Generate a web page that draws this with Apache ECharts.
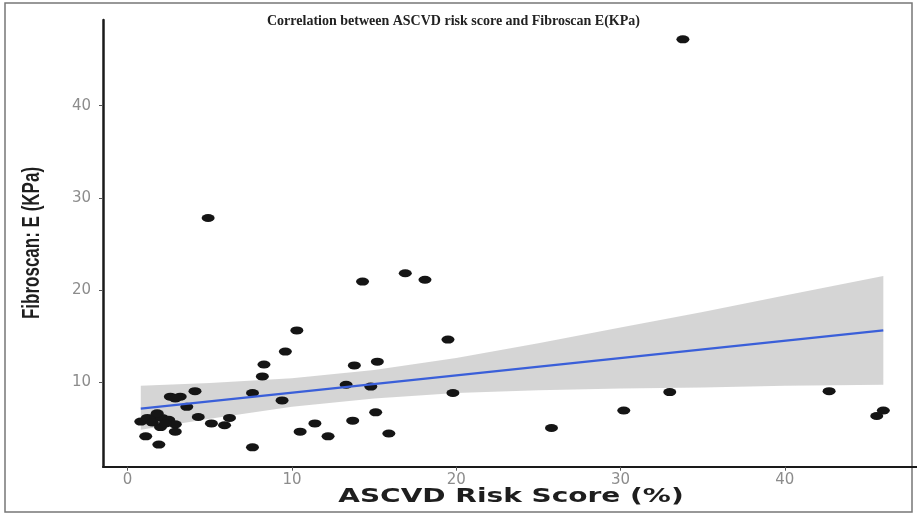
<!DOCTYPE html>
<html>
<head>
<meta charset="utf-8">
<script src="https://cdn.jsdelivr.net/npm/echarts@6/dist/echarts.min.js"></script>
<style>
html,body{margin:0;padding:0;background:#fff;}
#chart{width:917px;height:516px;}
</style>
</head>
<body>
<div id="chart"></div>
<script>
// ---- Data ----
const titleText = 'Correlation between ASCVD risk score and Fibroscan E(KPa)';
const xAxisName = 'ASCVD Risk Score (%)';
const yAxisName = 'Fibroscan: E (KPa)';
const xTicks = [0, 10, 20, 30, 40];
const yTicks = [10, 20, 30, 40];

// ASCVD risk score (%) for each patient
const riskScore = [33.8, 4.9, 16.9, 14.3, 18.1, 10.3, 19.5, 9.6, 8.3, 13.8,
                   15.2, 8.2, 13.3, 14.8, 7.6, 9.4, 19.8, 42.7, 33.0, 30.2,
                   25.8, 46.0, 45.6, 15.1, 13.7, 11.4, 10.5, 12.2, 15.9, 7.6,
                   4.1, 2.6, 3.2, 2.9, 3.6, 0.8, 1.2, 1.7, 2.1, 2.5,
                   2.0, 2.9, 2.9, 4.3, 5.1, 5.9, 6.2, 1.1, 1.9, 1.5,
                   2.3, 1.8];
// Fibroscan E (KPa) for each patient
const fibroscanE = [47.2, 27.8, 21.8, 20.9, 21.1, 15.6, 14.6, 13.3, 11.9, 11.8,
                    12.2, 10.6, 9.7, 9.5, 8.8, 8.0, 8.8, 9.0, 8.9, 6.9,
                    5.0, 6.9, 6.3, 6.7, 5.8, 5.5, 4.6, 4.1, 4.4, 2.9,
                    9.0, 8.4, 8.4, 8.2, 7.3, 5.7, 6.1, 6.2, 6.1, 5.9,
                    5.1, 5.4, 4.6, 6.2, 5.5, 5.3, 6.1, 4.1, 3.2, 5.6,
                    5.5, 6.6];

// Fitted regression line (end points)
const fitX = [0.8, 46.0];
const fitY = [7.1, 15.6];

// Confidence band read at several x positions
const bandX     = [0.8, 5,   10,   15,  20,   25,   30,   35,   40,   46.0];
const bandLower = [4.8, 6.0, 7.3,  8.2, 8.8,  9.1,  9.3,  9.4,  9.6,  9.7];
const bandUpper = [9.6, 9.9, 10.4, 11.3, 12.6, 14.2, 15.9, 17.6, 19.4, 21.5];

// ---- Chart ----
const chart = echarts.init(document.getElementById('chart'), null, {renderer: 'canvas'});

const points = riskScore.map((x, i) => [x, fibroscanE[i]]);
const fitLine = fitX.map((x, i) => [x, fitY[i]]);
const bandData = bandX.map((x, i) => [x, bandLower[i], bandUpper[i]]);

const option = {
  animation: false,
  backgroundColor: '#ffffff',
  title: {
    text: titleText,
    left: 267,
    top: 14,
    padding: 0,
    textStyle: {
      fontFamily: "'Liberation Serif', 'DejaVu Serif', serif",
      fontWeight: 'bold',
      fontSize: 14,
      color: '#222'
    }
  },
  grid: {
    left: 103,
    right: 0,
    top: 20,
    bottom: 49.3,
    containLabel: false
  },
  xAxis: {
    type: 'value',
    min: -1.5,
    max: 48.05,
    splitLine: {show: false},
    axisLine: {show: true, onZero: false, lineStyle: {color: '#1a1a1a', width: 2}},
    axisTick: {show: true, length: 4, customValues: xTicks, lineStyle: {color: '#555', width: 1}},
    axisLabel: {
      customValues: xTicks,
      margin: 6,
      color: '#8c8c8c',
      fontSize: 15,
      fontFamily: "'DejaVu Sans', sans-serif"
    }
  },
  yAxis: {
    type: 'value',
    min: 0.8,
    max: 49.3,
    splitLine: {show: false},
    axisLine: {show: true, onZero: false, lineStyle: {color: '#1a1a1a', width: 2.5}},
    axisTick: {show: true, length: 4, customValues: yTicks, lineStyle: {color: '#555', width: 1}},
    axisLabel: {
      customValues: yTicks,
      margin: 12,
      color: '#8c8c8c',
      fontSize: 15,
      fontFamily: "'DejaVu Sans', sans-serif"
    }
  },
  graphic: [
    {
      type: 'rect',
      silent: true,
      z: -1,
      shape: {x: 5, y: 3, width: 907, height: 509},
      style: {fill: 'none', stroke: '#777', lineWidth: 1.5}
    },
    {
      type: 'text',
      x: 511,
      y: 497,
      scaleX: 1.4,
      style: {
        text: xAxisName,
        align: 'center',
        verticalAlign: 'middle',
        font: "bold 20px 'DejaVu Sans', sans-serif",
        fill: '#1e1e1e'
      }
    },
    {
      type: 'text',
      x: 32,
      y: 243,
      rotation: Math.PI / 2,
      scaleY: 1.4,
      style: {
        text: yAxisName,
        align: 'center',
        verticalAlign: 'middle',
        font: "bold 17px 'Liberation Sans', Arial, sans-serif",
        fill: '#1e1e1e'
      }
    }
  ],
  series: [
    {
      type: 'custom',
      name: 'confidence band',
      data: bandData,
      z: 2,
      silent: true,
      encode: {x: 0, y: [1, 2]},
      renderItem: function (params, api) {
        if (params.dataIndex !== 0) return null;
        const pts = [];
        for (let i = 0; i < bandX.length; i++) pts.push(api.coord([bandX[i], bandUpper[i]]));
        for (let i = bandX.length - 1; i >= 0; i--) pts.push(api.coord([bandX[i], bandLower[i]]));
        return {
          type: 'polygon',
          shape: {points: pts},
          style: {fill: 'rgba(150,150,150,0.4)', stroke: null}
        };
      }
    },
    {
      type: 'scatter',
      name: 'patients',
      data: points,
      z: 3,
      symbol: 'path://M0 5A5 5 0 1 0 10 5A5 5 0 1 0 0 5Z',
      symbolSize: [13, 8],
      itemStyle: {color: '#151515', opacity: 1}
    },
    {
      type: 'line',
      name: 'fit',
      data: fitLine,
      z: 4,
      showSymbol: false,
      symbol: 'none',
      lineStyle: {color: '#3a5fd9', width: 2.2}
    }
  ]
};
chart.setOption(option);
</script>
</body>
</html>
